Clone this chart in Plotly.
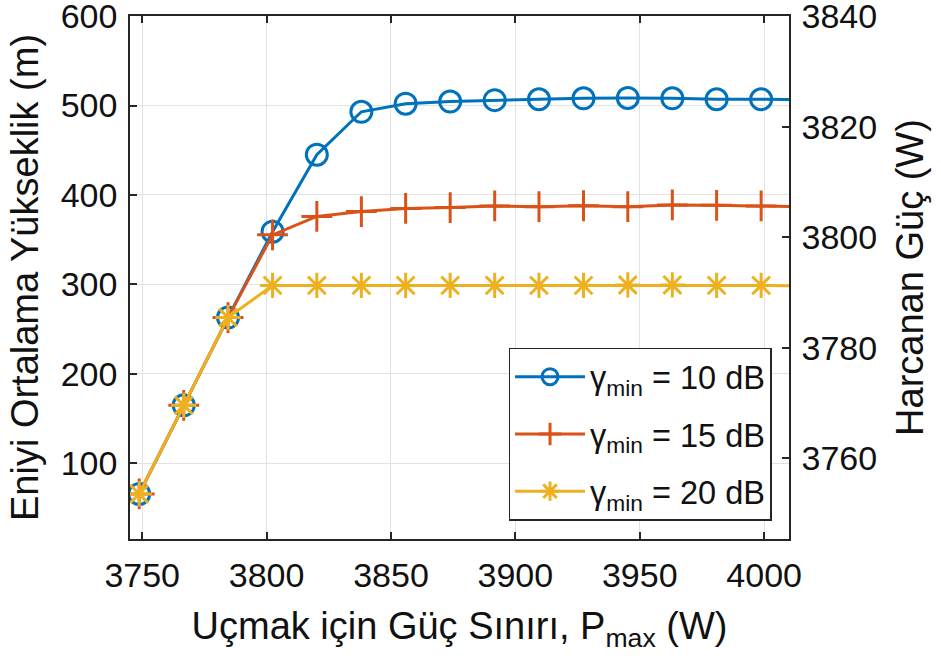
import plotly.graph_objects as go

# Flight power limit P_max (W)
p_max = [3748.8, 3766.7, 3784.5, 3802.4, 3820.2, 3838.1, 3855.9, 3873.8,
         3891.7, 3909.5, 3927.4, 3945.2, 3963.1, 3980.9, 3998.8, 4016.7]

# Optimal mean altitude (m) for each SNR threshold
alt_10db = [66, 165, 263, 359, 445, 493, 502, 504.4, 506, 507, 508, 508.5,
            508, 507, 507, 506.5]
alt_15db = [66, 165, 263, 355.5, 376, 381.5, 385, 385.9, 387.8, 387, 388, 387,
            388.9, 388.5, 387.8, 386.7]
alt_20db = [66, 165, 263, 299, 299, 299, 299, 299, 299, 299, 299, 299.5,
            299.5, 299, 299, 298.5]

series_names = ["γ<sub>min</sub> = 10 dB", "γ<sub>min</sub> = 15 dB",
                "γ<sub>min</sub> = 20 dB"]

x_ticks = [3750, 3800, 3850, 3900, 3950, 4000]
y_left_ticks = [100, 200, 300, 400, 500, 600]
y_right_ticks = [3760, 3780, 3800, 3820, 3840]

FONT = "Liberation Sans, Arial, Helvetica, sans-serif"
TXT = "#111111"
AX = "#262626"
TICK_SIZE = 34
TITLE_SIZE = 38

fig = go.Figure()

styles = [
    (alt_10db, "#0072BD", dict(symbol="circle-open", size=21,
                                line=dict(width=3, color="#0072BD"))),
    (alt_15db, "#D95319", dict(symbol="cross-thin-open", size=22,
                                line=dict(width=3, color="#D95319"))),
    (alt_20db, "#EDB120", dict(symbol="asterisk-open", size=21,
                                line=dict(width=3, color="#EDB120"))),
]
for i, ((vals, col, mk), name) in enumerate(zip(styles, series_names)):
    fig.add_trace(go.Scatter(
        x=p_max, y=vals, name=name, mode="lines+markers",
        line=dict(color=col, width=3), marker=mk, cliponaxis=True,
        legendgroup=f"g{i}",
    ))

# empty trace so the right-hand power axis is drawn
fig.add_trace(go.Scatter(x=[None], y=[None], yaxis="y2", showlegend=False,
                         hoverinfo="skip"))

axis_common = dict(
    showline=True, linecolor=AX, linewidth=1.5,
    ticks="inside", ticklen=7, tickwidth=1.5, tickcolor=AX,
    tickfont=dict(family=FONT, size=TICK_SIZE, color=TXT),
    ticklabeloverflow="allow", automargin=False,
    zeroline=False,
)

fig.update_layout(
    width=941, height=666,
    margin=dict(l=129.5, r=151.5, t=16, b=127),
    paper_bgcolor="white", plot_bgcolor="white",
    font=dict(family=FONT, color=TXT),
    xaxis=dict(
        range=[3745.1, 4010], tickvals=x_ticks,
        showgrid=True, gridcolor="#e2e2e2", gridwidth=1.2,
        mirror="ticks", ticklabelstandoff=5,
        title=dict(text="Uçmak için Güç Sınırı, P<sub>max</sub> (W)",
                   font=dict(family=FONT, size=TITLE_SIZE, color=TXT),
                   standoff=20),
        **axis_common,
    ),
    yaxis=dict(
        range=[15.6, 600.01], tickvals=y_left_ticks,
        showgrid=True, gridcolor="#e2e2e2", gridwidth=1.2,
        ticklabelstandoff=4,
        title=dict(text="Eniyi Ortalama Yükseklik (m)",
                   font=dict(family=FONT, size=TITLE_SIZE, color=TXT),
                   standoff=10),
        **axis_common,
    ),
    yaxis2=dict(
        range=[3745.4, 3840.01], tickvals=y_right_ticks, overlaying="y",
        side="right", showgrid=False, ticklabelstandoff=4,
        title=dict(text="Harcanan Güç (W)",
                   font=dict(family=FONT, size=TITLE_SIZE, color=TXT),
                   standoff=20),
        **axis_common,
    ),
    legend=dict(
        x=0.9735, xanchor="right", y=0.366, yanchor="top",
        bgcolor="white", bordercolor=AX, borderwidth=1.5,
        font=dict(family=FONT, size=32.5, color=TXT),
        itemwidth=70, tracegroupgap=12,
    ),
    showlegend=True,
)

fig.write_html("out.html")
